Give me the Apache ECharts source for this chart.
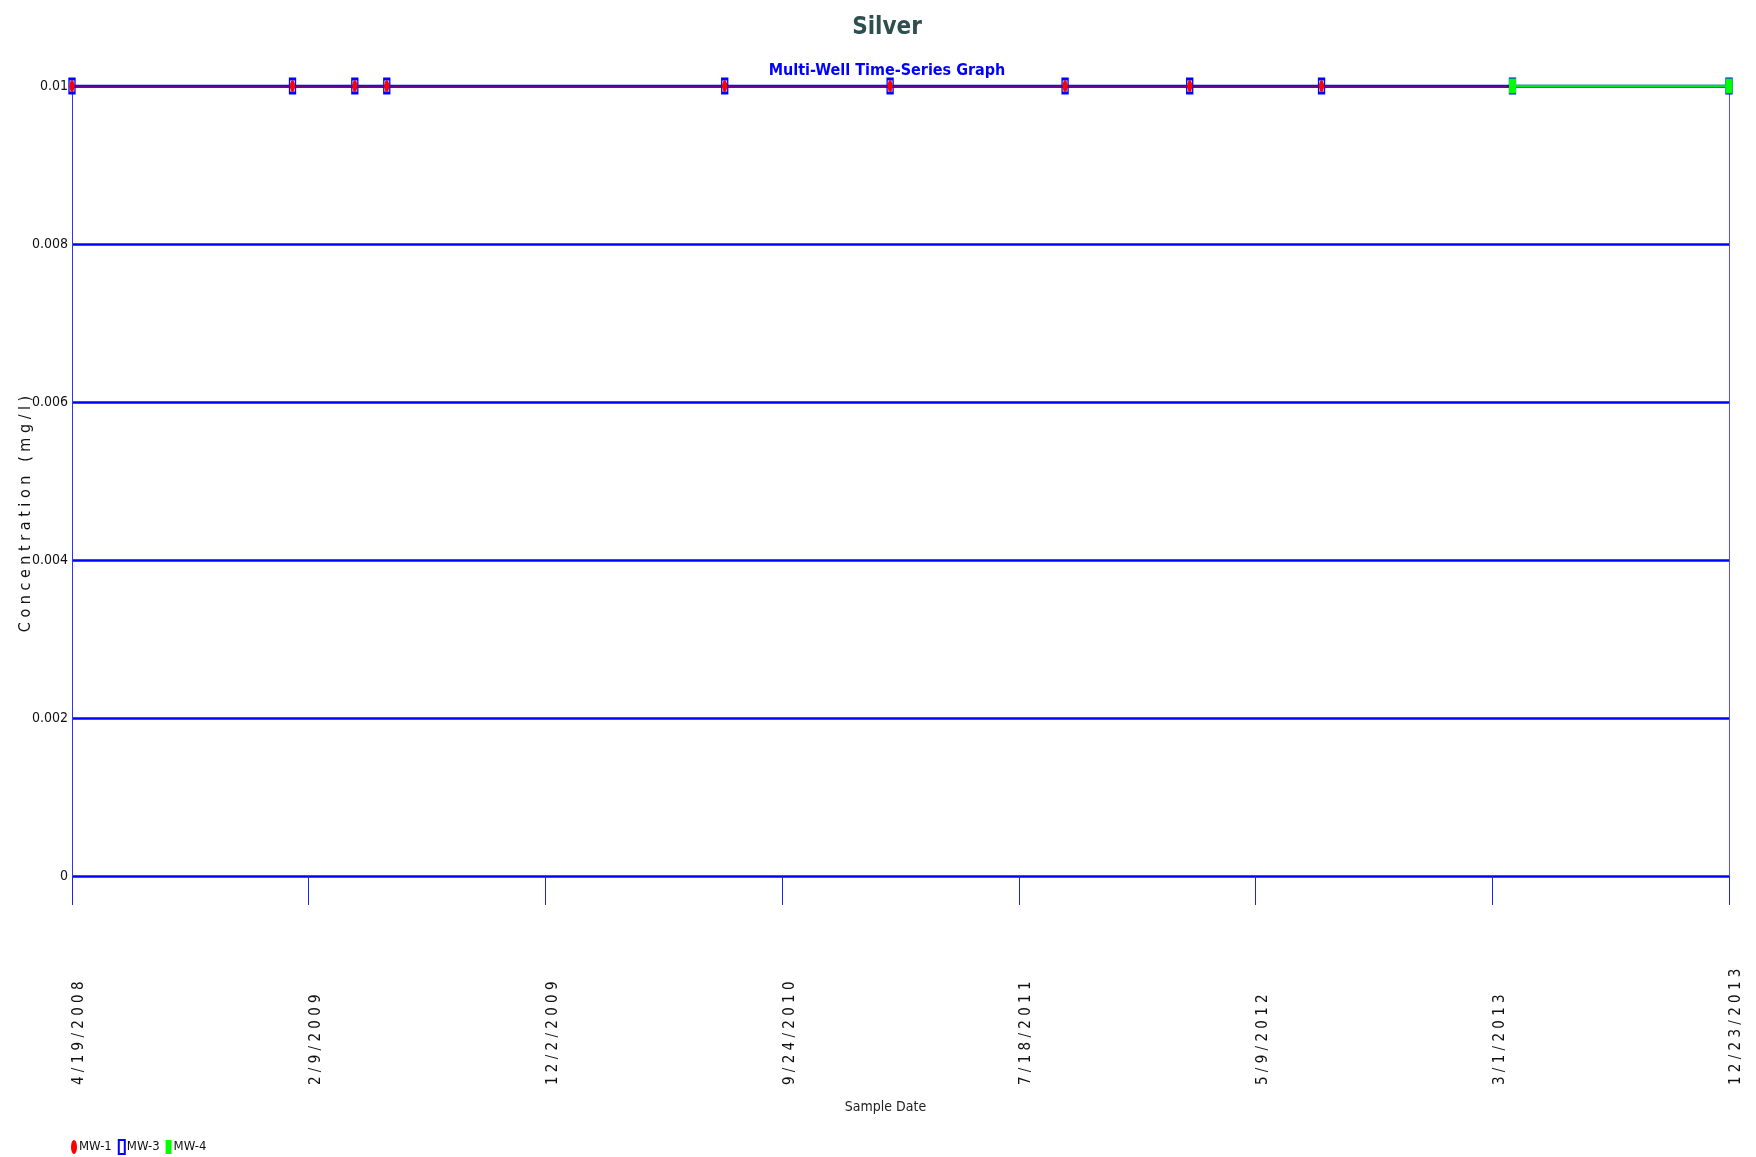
<!DOCTYPE html>
<html>
<head>
<meta charset="utf-8">
<script src="https://cdn.jsdelivr.net/npm/echarts@6/dist/echarts.min.js"></script>
<style>
html,body{margin:0;padding:0;background:#fff;}
#chart{width:1756px;height:1157px;}
</style>
</head>
<body>
<div id="chart"></div>
<script>
// ---- data ----
const axisStartDate = '4/19/2008';
const axisEndDate = '12/23/2013';
const tickCount = 7; // number of equal intervals between start and end date
const yTicks = [0, 0.002, 0.004, 0.006, 0.008, 0.01];

const mw1Dates = ['4/19/2008','1/20/2009','4/8/2009','5/18/2009','7/15/2010','2/7/2011','9/14/2011','2/17/2012','7/31/2012','3/27/2013','12/23/2013'];
const mw1Values = [0.01,0.01,0.01,0.01,0.01,0.01,0.01,0.01,0.01,0.01,0.01];
const mw3Dates = ['4/19/2008','1/20/2009','4/8/2009','5/18/2009','7/15/2010','2/7/2011','9/14/2011','2/17/2012','7/31/2012','3/27/2013','12/23/2013'];
const mw3Values = [0.01,0.01,0.01,0.01,0.01,0.01,0.01,0.01,0.01,0.01,0.01];
const mw4Dates = ['3/27/2013','12/23/2013'];
const mw4Values = [0.01,0.01];

// ---- helpers ----
// x axis unit = 1/tickCount day, so that the tick interval is a whole number
const DAY = 86400000;
function parseMDY(s){const p=s.split('/').map(Number);return Date.UTC(p[2],p[0]-1,p[1]);}
const base = parseMDY(axisStartDate);
function toUnits(s){return Math.round((parseMDY(s)-base)/DAY)*tickCount;}
const xMax = toUnits(axisEndDate);
const xInterval = xMax / tickCount;
function unitsLabel(u){
  const days = Math.floor(u / tickCount + 1e-9);
  const dt = new Date(base + days*DAY);
  const s = (dt.getUTCMonth()+1)+'/'+dt.getUTCDate()+'/'+dt.getUTCFullYear();
  return s.split('').join(' ');
}
function pairs(dates, vals){return dates.map((d,i)=>[toUnits(d), vals[i]]);}

const FONT = '"Liberation Sans Narrow","Arial Narrow","DejaVu Sans Condensed","Liberation Sans",sans-serif';
const ELLIPSE = 'path://M0,12A6,12 0 1 0 12,12A6,12 0 1 0 0,12Z';

const chart = echarts.init(document.getElementById('chart'));
chart.setOption({
  backgroundColor:'#ffffff',
  animation:false,
  title:[
    {text:'Silver', left:882, textAlign:'center', top:11, textStyle:{fontFamily:FONT, fontSize:24, fontWeight:'bold', color:'#2F4F4F'}},
    {text:'Multi-Well Time-Series Graph', left:882, textAlign:'center', top:58, textStyle:{fontFamily:FONT, fontSize:16, fontWeight:'bold', color:'#0000FF'}}
  ],
  legend:{
    left:66, top:1134, itemWidth:6, itemHeight:14, itemGap:6, symbolKeepAspect:false,
    textStyle:{fontFamily:FONT, fontSize:13, color:'#111', padding:[0,0,0,-3]},
    data:[{name:'MW-1', icon:ELLIPSE},{name:'MW-3', icon:'rect'},{name:'MW-4', icon:'rect'}]
  },
  grid:{left:72, right:27, top:86, bottom:281, containLabel:false, outerBoundsMode:'none'},
  xAxis:{
    type:'value', min:0, max:xMax, interval:xInterval,
    name:'Sample Date', nameLocation:'middle', nameGap:224, nameMoveOverlap:false,
    nameTextStyle:{fontFamily:FONT, fontSize:14, color:'#222', padding:[0,30,0,0]},
    axisLine:{show:false},
    axisTick:{show:true, length:29, lineStyle:{color:'#2020ff', width:1}},
    splitLine:{show:false},
    axisLabel:{
      rotate:90, align:'left', verticalAlign:'top', margin:209,
      fontFamily:FONT, fontSize:15, color:'#111',
      showMinLabel:true, showMaxLabel:true,
      formatter:(v)=>unitsLabel(v)
    }
  },
  yAxis:[{
    type:'value', min:yTicks[0], max:yTicks[yTicks.length-1], interval:yTicks[1]-yTicks[0],
    name:'C o n c e n t r a t i o n   ( m g / l )', nameLocation:'middle', nameGap:38, nameRotate:90, nameMoveOverlap:false,
    nameTextStyle:{fontFamily:FONT, fontSize:16, color:'#111', padding:[0,66,0,0]},
    axisLine:{show:true, lineStyle:{color:'#3030ff', width:1}},
    axisTick:{show:false},
    splitLine:{show:true, lineStyle:{color:'#0000FF', width:2.5}},
    axisLabel:{margin:4, fontFamily:FONT, fontSize:14, color:'#111'}
  },{
    type:'value', position:'right', min:0, max:0.01,
    axisLine:{show:true, lineStyle:{color:'#5050ff', width:1}},
    axisTick:{show:false}, axisLabel:{show:false}, splitLine:{show:false}
  }],
  series:[
    {
      name:'MW-1', type:'line', z:3, data:pairs(mw1Dates, mw1Values),
      symbol:'circle', symbolSize:[5,12], showSymbol:true,
      lineStyle:{color:'#cc0033', width:1},
      itemStyle:{color:'#ff0000', borderWidth:0}
    },
    {
      name:'MW-3', type:'line', z:2, data:pairs(mw3Dates, mw3Values),
      symbol:'rect', symbolSize:[6,14], showSymbol:true,
      lineStyle:{color:'#0000FF', width:3},
      itemStyle:{color:'rgba(255,255,255,0)', borderColor:'#0000FF', borderWidth:2}
    },
    {
      name:'MW-4', type:'line', z:4, data:pairs(mw4Dates, mw4Values),
      symbol:'rect', symbolSize:[7,15], showSymbol:true,
      lineStyle:{color:'#00E020', width:3},
      itemStyle:{color:'#00FF00', borderWidth:0}
    }
  ]
});
</script>
</body>
</html>
